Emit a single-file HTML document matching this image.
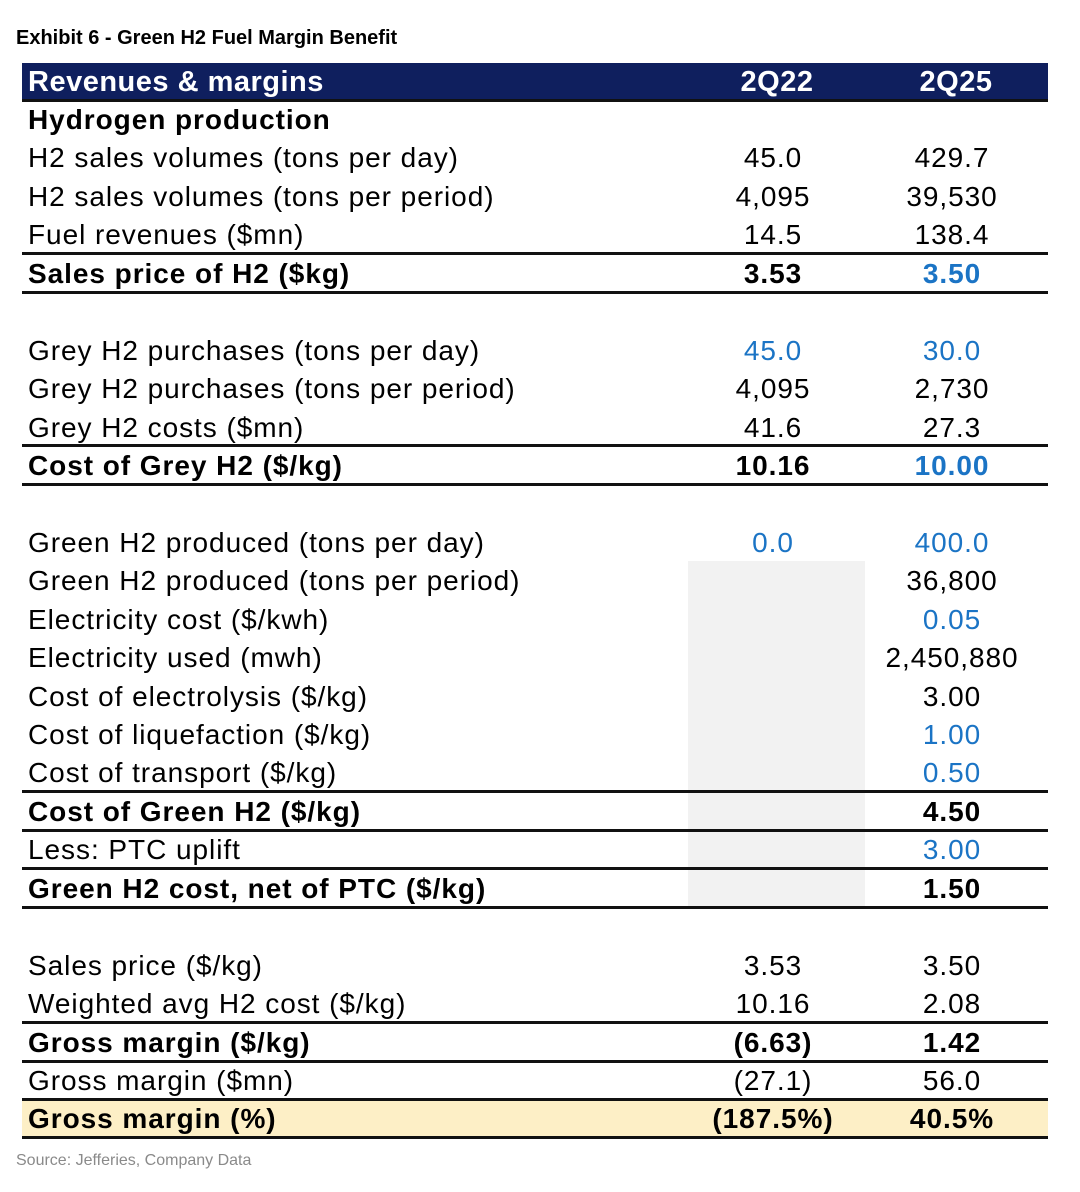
<!DOCTYPE html>
<html><head><meta charset="utf-8"><style>
body{margin:0;width:1080px;height:1192px;background:#fff;position:relative;font-family:"Liberation Sans",Arial,sans-serif;color:#000;overflow:hidden}
.a{position:absolute}
.row{position:absolute;left:22px;width:1026px;height:38px;font-size:28px;line-height:39px;letter-spacing:0.95px}
.row .l{position:absolute;left:6px;white-space:nowrap}
.row .c1{position:absolute;left:661px;width:180px;text-align:center}
.row .c2{position:absolute;left:840px;width:180px;text-align:center}
.b{font-weight:bold}
.row.b{letter-spacing:0.95px}
.bl{color:#1b74c5}
.line{position:absolute;left:22px;width:1026px;height:3px;background:#111}
</style></head><body>
<div class="a" style="left:16px;top:27px;font-size:20px;font-weight:bold;letter-spacing:0px">Exhibit 6 - Green H2 Fuel Margin Benefit</div>
<div class="a" style="left:22px;top:63px;width:1026px;height:37px;background:#0f1f5e;color:#fff;font-size:29px;font-weight:bold;line-height:38px;letter-spacing:0.5px">
<span style="position:absolute;left:6px">Revenues &amp; margins</span>
<span style="position:absolute;left:665px;width:180px;text-align:center">2Q22</span>
<span style="position:absolute;left:844px;width:180px;text-align:center">2Q25</span>
</div>
<div class="a" style="left:688px;top:561px;width:177px;height:345px;background:#f2f2f2"></div>
<div class="a" style="left:22px;top:1099px;width:1026px;height:38px;background:#fdefc6"></div>
<div id="t"></div>
<div class="a" style="left:16px;top:1152px;font-size:16px;color:#8a8a8a">Source: Jefferies, Company Data</div>
<script>
const labels=["Hydrogen production","H2 sales volumes (tons per day)","H2 sales volumes (tons per period)","Fuel revenues ($mn)","Sales price of H2 ($kg)","","Grey H2 purchases (tons per day)","Grey H2 purchases (tons per period)","Grey H2 costs ($mn)","Cost of Grey H2 ($/kg)","","Green H2 produced (tons per day)","Green H2 produced (tons per period)","Electricity cost ($/kwh)","Electricity used (mwh)","Cost of electrolysis ($/kg)","Cost of liquefaction ($/kg)","Cost of transport ($/kg)","Cost of Green H2 ($/kg)","Less: PTC uplift","Green H2 cost, net of PTC ($/kg)","","Sales price ($/kg)","Weighted avg H2 cost ($/kg)","Gross margin ($/kg)","Gross margin ($mn)","Gross margin (%)"];
const v2Q22=["","45.0","4,095","14.5","3.53","","45.0","4,095","41.6","10.16","","0.0","","","","","","","","","","","3.53","10.16","(6.63)","(27.1)","(187.5%)"];
const v2Q25=["","429.7","39,530","138.4","3.50","","30.0","2,730","27.3","10.00","","400.0","36,800","0.05","2,450,880","3.00","1.00","0.50","4.50","3.00","1.50","","3.50","2.08","1.42","56.0","40.5%"];
const boldRows=[0,4,9,18,20,24,26];
const blue1=[6,11];
const blue2=[4,6,9,11,13,16,17,19];
const lineRows=[4,5,9,10,18,19,20,21,24,25,26,27];
const t=document.getElementById('t');
const top0=100,rh=38.44;
labels.forEach((lab,i)=>{
 const r=document.createElement('div');
 r.className='row'+(boldRows.includes(i)?' b':'');
 r.style.top=(top0+i*rh)+'px';
 
 
 const l=document.createElement('span');l.className='l';l.textContent=lab;
 
 
 const a=document.createElement('span');a.className='c1'+(blue1.includes(i)?' bl':'');a.textContent=v2Q22[i];
 
 
 const b=document.createElement('span');b.className='c2'+(blue2.includes(i)?' bl':'');b.textContent=v2Q25[i];
 
 
 r.append(l,a,b);t.appendChild(r);
});
[0].concat(lineRows).forEach(i=>{
 const d=document.createElement('div');d.className='line';
 d.style.top=(top0+i*rh-1.5)+'px';
 
 
 t.appendChild(d);
});
</script>
</body></html>
